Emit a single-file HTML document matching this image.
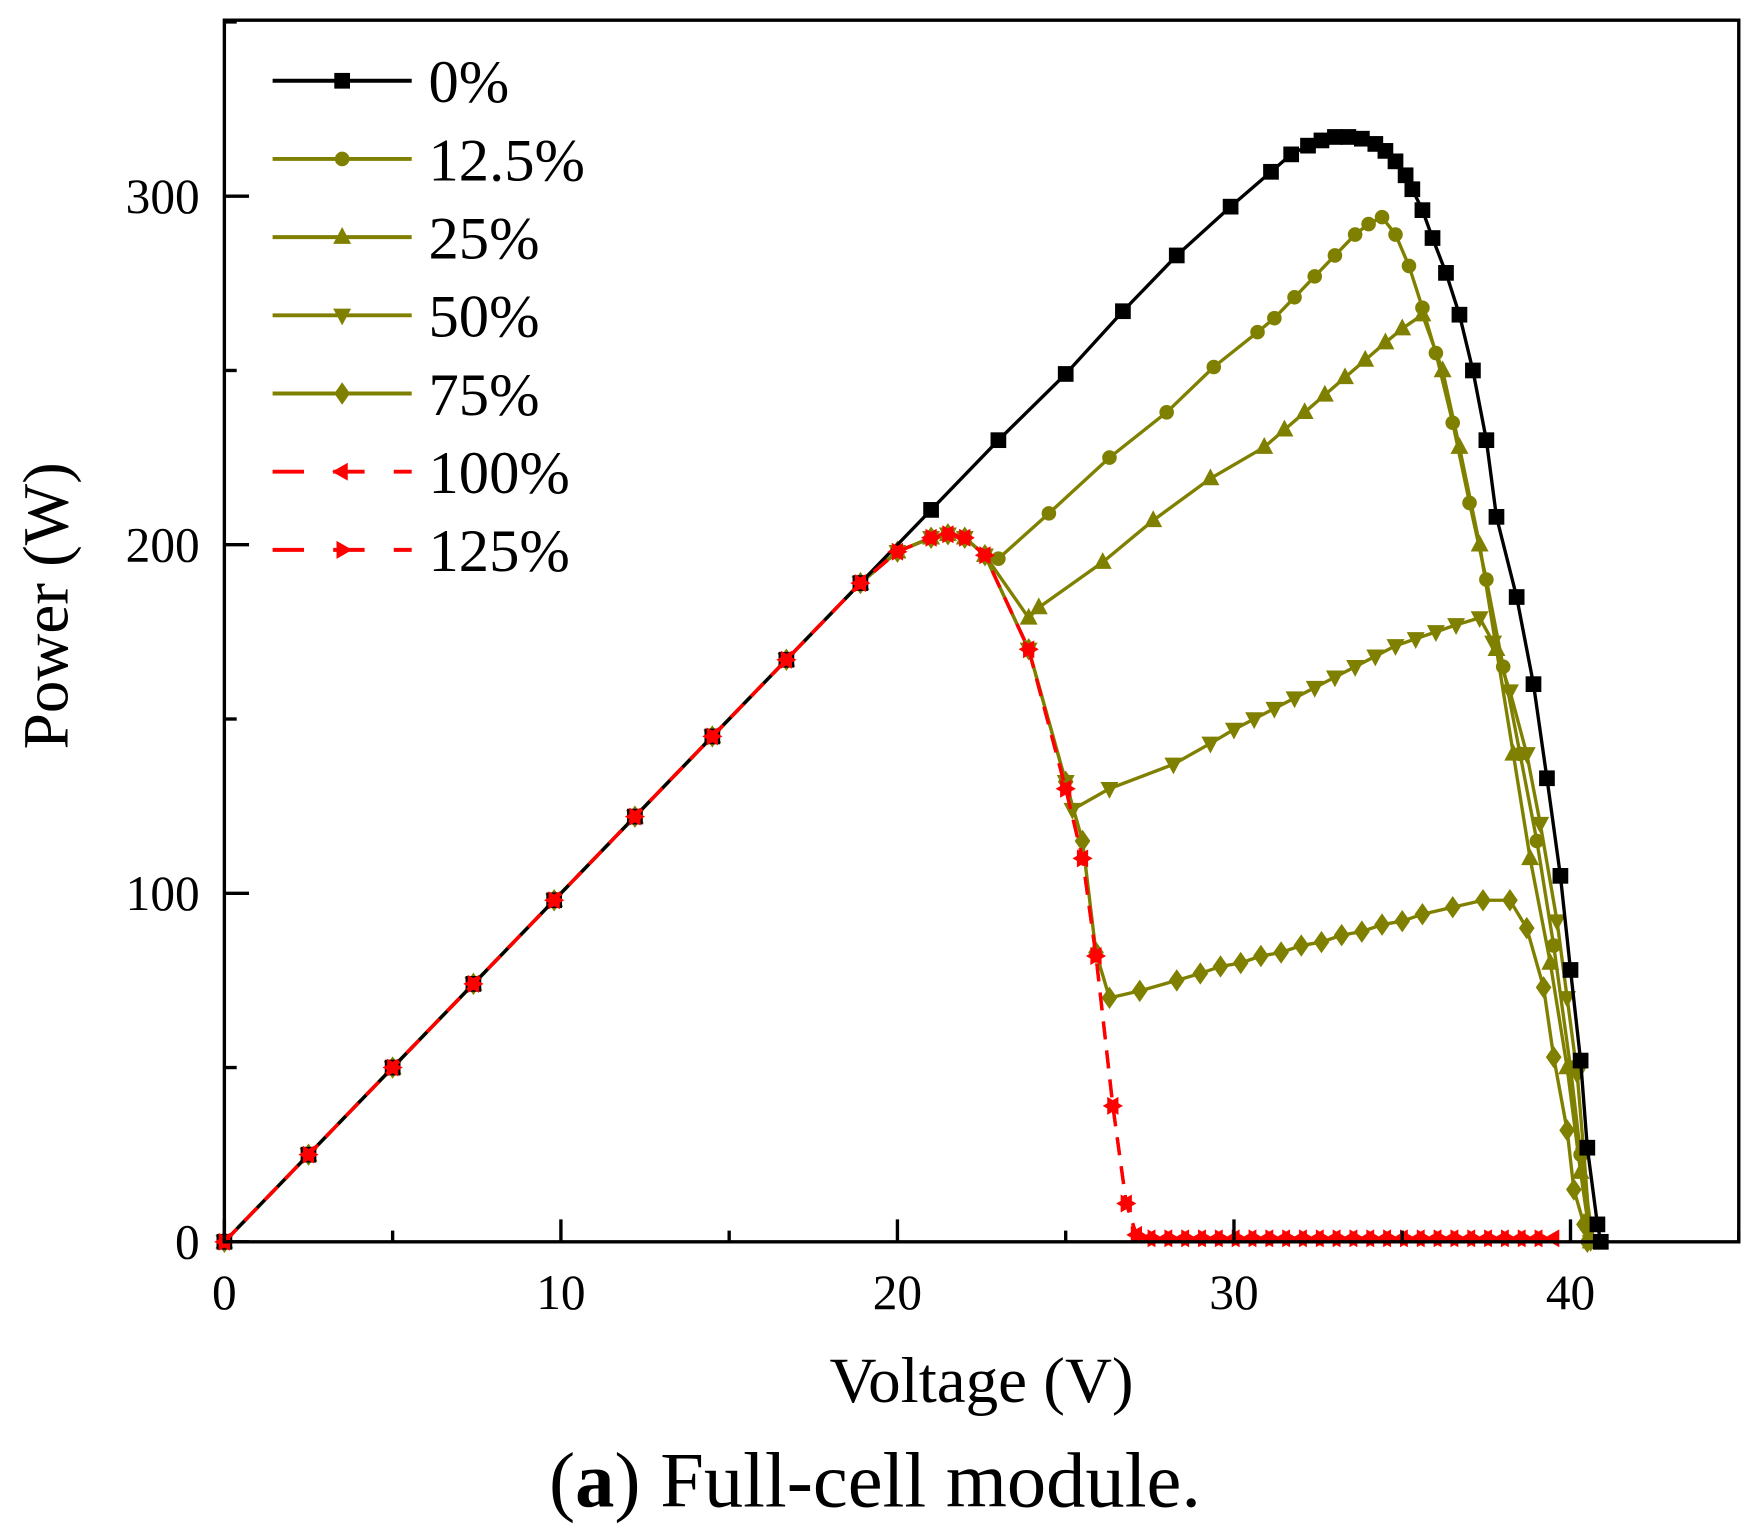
<!DOCTYPE html>
<html><head><meta charset="utf-8"><style>
html,body{margin:0;padding:0;background:#fff;width:1750px;height:1530px;overflow:hidden}
svg{display:block}
text{font-family:"Liberation Serif",serif;fill:#000}
</style></head><body>
<svg id="chart" width="1750" height="1530" viewBox="0 0 1560 1363.9" xmlns="http://www.w3.org/2000/svg"></svg>
<script>
const xTicks=[0,10,20,30,40];
const yTicks=[0,100,200,300];
const seriesNames=["0%","12.5%","25%","50%","75%","100%","125%"];
const hump=[[0,2.5,5,7.4,9.8,12.2,14.5,16.7,18.9,20,21,21.5,22,22.6],[0,25,50,74,98,122,145,167,189,198,202,203,202,197]];
const v0=[0,2.5,5,7.4,9.8,12.2,14.5,16.7,18.9,21,23,25,26.7,28.3,29.9,31.1,31.7,32.2,32.6,33,33.4,33.8,34.2,34.5,34.8,35.1,35.3,35.6,35.9,36.3,36.7,37.1,37.5,37.8,38.4,38.9,39.3,39.7,40,40.3,40.5,40.8,40.9];
const p0=[0,25,50,74,98,122,145,167,189,210,230,249,267,283,297,307,312,314.5,316,317,317,316.5,315,313,310,306,302,296,288,278,266,250,230,208,185,160,133,105,78,52,27,5,0];
const v1=[...hump[0],23,24.5,26.3,28,29.4,30.7,31.2,31.8,32.4,33,33.6,34,34.4,34.8,35.2,35.6,36,36.5,37,37.5,38,38.5,39,39.5,40,40.3,40.6,40.7];
const p1=[...hump[1],196,209,225,238,251,261,265,271,277,283,289,292,294,289,280,268,255,235,212,190,165,140,115,85,50,25,5,0];
const v2=[...hump[0],23.9,24.2,26.1,27.6,29.3,30.9,31.5,32.1,32.7,33.3,33.9,34.5,35,35.6,36.2,36.7,37.3,37.8,38.3,38.8,39.4,39.9,40.3,40.6];
const p2=[...hump[1],179,182,195,207,219,228,233,238,243,248,253,258,262,266,250,228,200,170,140,110,80,50,20,0];
const v3=[...hump[0],23.9,25,25.2,26.3,28.2,29.3,30,30.6,31.2,31.8,32.4,33,33.6,34.2,34.8,35.4,36,36.6,37.3,37.7,38.2,38.7,39.1,39.6,39.9,40.2,40.4,40.6];
const p3=[...hump[1],170,132,124,130,137,143,147,150,153,156,159,162,165,168,171,173,175,177,179,172,158,140,120,92,70,48,25,0];
const v4=[...hump[0],23.9,25,25.5,25.9,26.3,27.2,28.3,29,29.6,30.2,30.8,31.4,32,32.6,33.2,33.8,34.4,35,35.6,36.5,37.4,38.2,38.7,39.2,39.5,39.9,40.1,40.4,40.5];
const p4=[...hump[1],170,132,115,83,70,72,75,77,79,80,82,83,85,86,88,89,91,92,94,96,98,98,90,73,53,32,15,5,0];
const v5=[...hump[0],23.9,25,25.5,25.9,26.4,26.8,27.1,27.5,28,28.5,29,29.5,30,30.5,31,31.5,32,32.5,33,33.5,34,34.5,35,35.5,36,36.5,37,37.5,38,38.5,39,39.5];
const p5=[...hump[1],170,130,110,82,39,11,2,1,1,1,1,1,1,1,1,1,1,1,1,1,1,1,1,1,1,1,1,1,1,1,1,1];
const v6=[...hump[0],23.9,25,25.5,25.9,26.4,26.8,27.1,27.6,28.1,28.6,29.1,29.6,30.1,30.6,31.1,31.6,32.1,32.6,33.1,33.6,34.1,34.6,35.1,35.6,36.1,36.6,37.1,37.6,38.1,38.6,39.1];
const p6=[...hump[1],170,130,110,82,39,11,2,1,1,1,1,1,1,1,1,1,1,1,1,1,1,1,1,1,1,1,1,1,1,1,1];

const NS="http://www.w3.org/2000/svg";
const svg=document.getElementById('chart');
const X0=200,X1=1550,Y0=1107,Y1=18;
const sx=v=>X0+v*30;
const sy=p=>Y0-p*3.107;
function mk(tag,attrs,parent){const e=document.createElementNS(NS,tag);for(const k in attrs)e.setAttribute(k,attrs[k]);(parent||svg).appendChild(e);return e;}
const OL="#808000",RD="#ff0000";
function marker(type,x,y,c,g){
  let e;
  if(type==='sq')e=mk('rect',{x:x-7,y:y-7,width:14,height:14,fill:c},g);
  else if(type==='ci')e=mk('circle',{cx:x,cy:y,r:6.5,fill:c},g);
  else if(type==='up')e=mk('polygon',{points:`${x},${y-9} ${x+8},${y+6} ${x-8},${y+6}`,fill:c},g);
  else if(type==='dn')e=mk('polygon',{points:`${x},${y+9} ${x+8},${y-6} ${x-8},${y-6}`,fill:c},g);
  else if(type==='di')e=mk('polygon',{points:`${x},${y-10} ${x+7},${y} ${x},${y+10} ${x-7},${y}`,fill:c},g);
  else if(type==='lt')e=mk('polygon',{points:`${x-9},${y} ${x+5},${y-8} ${x+5},${y+8}`,fill:c},g);
  else e=mk('polygon',{points:`${x+9},${y} ${x-5},${y-8} ${x-5},${y+8}`,fill:c},g);
  
  
}
const S=[[v0,p0,'#000','sq',false],[v1,p1,OL,'ci',false],[v2,p2,OL,'up',false],[v3,p3,OL,'dn',false],[v4,p4,OL,'di',false],[v5,p5,RD,'lt',true],[v6,p6,RD,'rt',true]];
const order=[4,3,2,1,0,5,6];
order.forEach(i=>{
  const [vs,ps,c,m,dash]=S[i];
  const g=mk('g',{});
  
  
  const pl=mk('polyline',{points:vs.map((v,j)=>sx(v)+','+sy(ps[j])).join(' '),fill:'none',stroke:c,'stroke-width':3,'stroke-dasharray':dash?'16 10':'none'},g);
  
  
  vs.forEach((v,j)=>marker(m,sx(v),sy(ps[j]),c,g));
});
const fr=mk('rect',{x:X0,y:Y1,width:X1-X0,height:Y0-Y1,fill:'none',stroke:'#000','stroke-width':3});


for(let v=0;v<=45;v+=5){const major=v%10===0;const t=mk('line',{x1:sx(v),x2:sx(v),y1:Y0,y2:Y0-(major?20:10),stroke:'#000','stroke-width':3});

}
xTicks.forEach(v=>{const t=mk('text',{x:sx(v),y:1167,'font-size':44,'text-anchor':'middle'});t.textContent=v;

});
for(let p=0;p<=350;p+=50){const major=p%100===0;const t=mk('line',{x1:X0,x2:X0+(major?22:11),y1:sy(p),y2:sy(p),stroke:'#000','stroke-width':3});

}
yTicks.forEach(p=>{const t=mk('text',{x:178,y:sy(p)+15,'font-size':44,'text-anchor':'end'});t.textContent=p;

});
const lg=mk('g',{});


seriesNames.forEach((n,i)=>{const [,,c,m,dash]=S[i];const y=72+i*69.7;
  const l=mk('line',{x1:243,x2:367,y1:y,y2:y,stroke:c,'stroke-width':3.5,'stroke-dasharray':dash?'28 26':'none'},lg);
  
  
  marker(m,305,y,c,lg);
  const t=mk('text',{x:382,y:y+19,'font-size':54},lg);t.textContent=n;
  
  
});
</script>
<svg style="position:absolute;left:0;top:0" width="1750" height="1530" viewBox="0 0 1560 1363.9">
<text x="875" y="1250" font-size="58" text-anchor="middle">Voltage (V)</text>
<text transform="translate(60,540) rotate(-90)" font-size="58" text-anchor="middle">Power (W)</text>
<text x="780" y="1343" font-size="70" text-anchor="middle">(<tspan font-weight="bold">a</tspan>) Full-cell module.</text>
</svg>
</body></html>
